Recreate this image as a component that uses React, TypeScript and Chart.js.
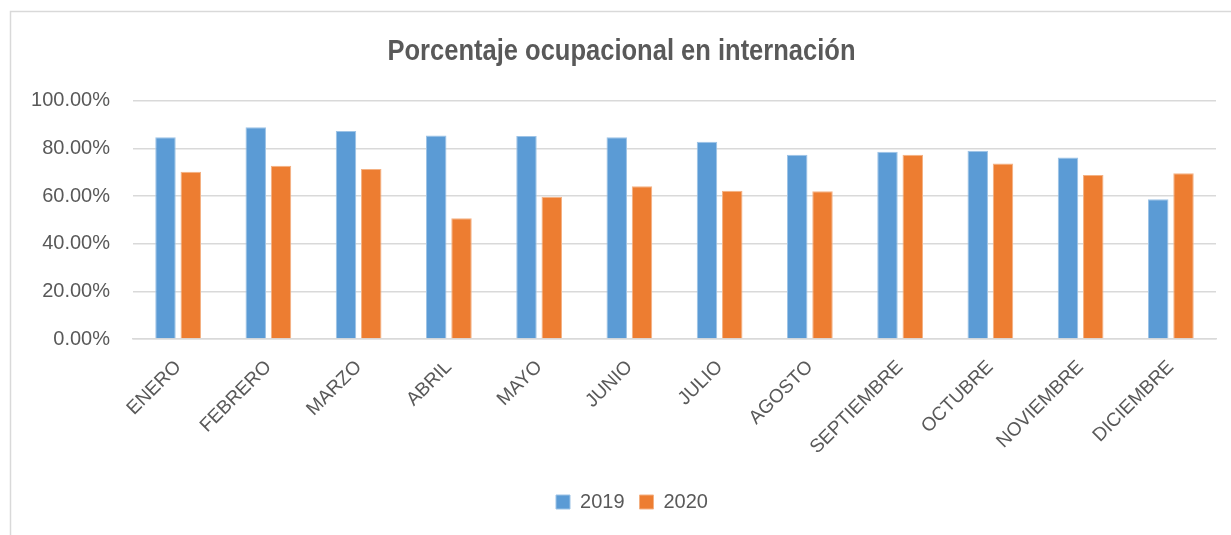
import React, { useEffect, useRef } from "react";
import { Chart, registerables } from "chart.js";

Chart.register(...registerables);

const months = ["ENERO", "FEBRERO", "MARZO", "ABRIL", "MAYO", "JUNIO", "JULIO", "AGOSTO", "SEPTIEMBRE", "OCTUBRE", "NOVIEMBRE", "DICIEMBRE"];
const values2019 = [84.7, 88.9, 87.3, 85.4, 85.2, 84.7, 82.8, 77.3, 78.6, 79.0, 76.2, 58.7];
const values2020 = [70.2, 72.7, 71.4, 50.7, 59.7, 64.1, 62.2, 62.0, 77.3, 73.7, 68.8, 69.6];
const seriesNames = ["2019", "2020"];
const chartTitle = "Porcentaje ocupacional en internación";

const TEXT = "#595959";
const GRID = "#d9d9d9";

const frame = {
  id: "frame",
  beforeDraw(chart: any) {
    const ctx = chart.ctx;
    ctx.save();
    ctx.fillStyle = "#ffffff";
    ctx.fillRect(0, 0, chart.width, chart.height);
    ctx.strokeStyle = GRID;
    ctx.lineWidth = 1.5;
    ctx.beginPath();
    ctx.moveTo(10.5, chart.height);
    ctx.lineTo(10.5, 11.5);
    ctx.lineTo(chart.width, 11.5);
    ctx.stroke();
    ctx.restore();
  },
};

// condensed title and shifted legend, like the original Excel chart
const adjust = {
  id: "adjust",
  afterLayout(chart: any) {
    const lg = chart.legend;
    if (lg) {
      lg.left += 24;
      lg.right += 24;
    }
    const t = chart.titleBlock;
    if (t && !t.__patched) {
      const orig = t.draw.bind(t);
      t.draw = (...args: any[]) => {
        const ctx = chart.ctx;
        const cx = (t.left + t.right) / 2;
        ctx.save();
        ctx.translate(621.5, 0);
        ctx.scale(0.88, 1);
        ctx.translate(-cx, 0);
        orig(...args);
        ctx.restore();
      };
      t.__patched = true;
    }
  },
};

export default function App() {
  const ref = useRef<HTMLCanvasElement>(null);
  useEffect(() => {
    if (!ref.current) return;
    const chart = new Chart(ref.current, {
      type: "bar",
      data: {
        labels: months,
        datasets: [
          { label: seriesNames[0], data: values2019, backgroundColor: "#5B9BD5", borderColor: "#9DC3E6", borderWidth: 1 },
          { label: seriesNames[1], data: values2020, backgroundColor: "#ED7D31", borderColor: "#F4B183", borderWidth: 1 },
        ],
      },
      options: {
        responsive: false,
        animation: false,
        layout: { padding: { left: 0, right: 15, top: 35, bottom: 13 } },
        datasets: { bar: { categoryPercentage: 0.56, barPercentage: 0.81 } },
        plugins: {
          title: {
            display: true,
            text: chartTitle,
            color: TEXT,
            font: { family: "'Liberation Sans', sans-serif", size: 29, weight: "bold" },
            padding: { top: 0, bottom: 31 },
          },
          legend: {
            position: "bottom",
            labels: {
              color: TEXT,
              font: { family: "'Liberation Sans', sans-serif", size: 20 },
              boxWidth: 14,
              boxHeight: 14,
              padding: 15,
            },
          },
          tooltip: { enabled: false },
        },
        scales: {
          x: {
            grid: { display: false },
            border: { color: GRID, width: 1.5 },
            ticks: {
              color: TEXT,
              font: { family: "'Liberation Sans', sans-serif", size: 19 },
              minRotation: 45,
              maxRotation: 45,
              padding: 9,
            },
            afterFit: (s: any) => { s.height = 138; },
          },
          y: {
            min: 0,
            max: 100,
            grid: { color: GRID, lineWidth: 1.5, drawTicks: false },
            border: { display: false },
            ticks: {
              stepSize: 20,
              color: TEXT,
              padding: 23,
              font: { family: "'Liberation Sans', sans-serif", size: 20 },
              callback: (v: any) => Number(v).toFixed(2) + "%",
            },
            afterFit: (s: any) => { s.width = 133; },
          },
        },
      },
      plugins: [frame, adjust],
    });
    return () => chart.destroy();
  }, []);
  return (
    <div style={{ position: "fixed", left: 0, top: 0, width: 1231, height: 535 }}>
      <canvas ref={ref} width={1231} height={535} />
    </div>
  );
}
